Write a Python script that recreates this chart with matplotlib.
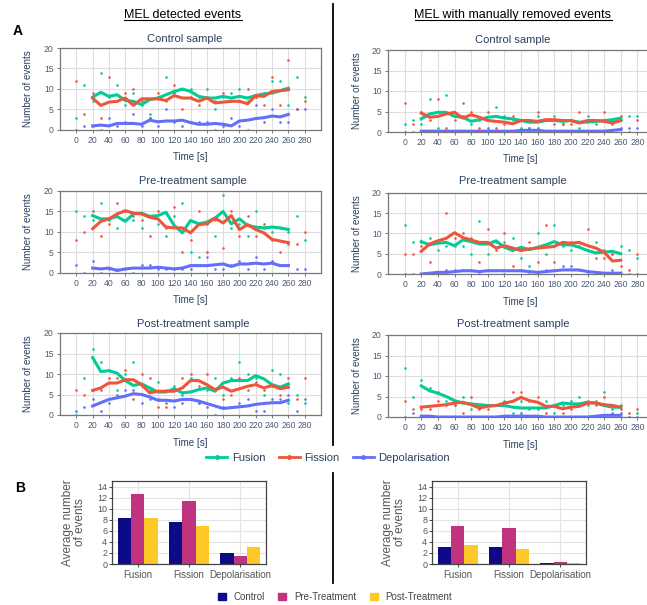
import matplotlib
matplotlib.use("Agg")
import matplotlib.pyplot as plt
import numpy as np
from matplotlib.lines import Line2D
from matplotlib.patches import Patch

plt.rcParams['font.family'] = ['Liberation Sans', 'DejaVu Sans']

# time axis: raw counts every 10 s, smoothed line from 20 to 260 s
time_pts = np.arange(0, 290, 10)
time_line = np.arange(20, 270, 10)

# ---- MEL detected events ----
det_ctrl_fus_pts = [3, 11, 7, 14, 8, 11, 6, 9, 6, 4, 8, 13, 9, 10, 10, 8, 10, 5, 8, 9, 10, 7, 8, 9, 12, 12, 6, 13, 8]
det_ctrl_fis_pts = [12, 4, 9, 3, 13, 7, 9, 10, 7, 3, 9, 7, 11, 5, 8, 6, 8, 7, 9, 7, 7, 10, 8, 6, 13, 6, 17, 5, 7]
det_ctrl_dep_pts = [0, 1, 1, 0, 3, 1, 2, 4, 1, 3, 1, 5, 2, 1, 2, 2, 2, 0, 1, 3, 1, 0, 6, 2, 5, 2, 2, 5, 5]
det_ctrl_fus_line = [8.0, 9.2, 8.2, 8.6, 7.2, 7.0, 6.2, 7.4, 7.8, 8.6, 9.4, 10.0, 9.4, 8.2, 7.8, 7.8, 8.2, 7.8, 8.2, 7.8, 8.4, 8.8, 9.0, 9.6, 10.2]
det_ctrl_fis_line = [7.8, 6.0, 6.8, 7.0, 7.8, 6.0, 7.6, 7.6, 7.6, 7.2, 8.4, 7.8, 7.8, 7.0, 7.8, 6.6, 6.8, 7.0, 7.0, 6.4, 8.4, 8.2, 9.4, 9.6, 9.8]
det_ctrl_dep_line = [1.0, 1.2, 1.0, 1.6, 1.6, 1.6, 1.4, 2.4, 2.0, 2.2, 2.2, 2.4, 1.8, 1.4, 1.4, 1.6, 1.4, 1.0, 2.2, 2.4, 2.8, 3.0, 3.4, 3.2, 3.8]

det_pre_fus_pts = [15, 14, 13, 17, 13, 11, 13, 13, 11, 14, 12, 9, 14, 17, 5, 4, 12, 9, 19, 11, 12, 9, 15, 11, 10, 11, 10, 14, 8]
det_pre_fis_pts = [8, 10, 15, 9, 12, 17, 15, 14, 13, 9, 15, 11, 16, 5, 8, 15, 5, 13, 6, 15, 9, 14, 9, 12, 8, 5, 7, 7, 10]
det_pre_dep_pts = [2, 0, 3, 0, 1, 1, 1, 0, 2, 2, 1, 1, 1, 1, 1, 2, 4, 1, 1, 2, 3, 1, 4, 1, 3, 2, 2, 1, 1]
det_pre_fus_line = [14.0, 13.2, 13.2, 13.8, 12.6, 14.4, 14.6, 13.8, 14.0, 14.8, 11.6, 9.8, 12.8, 12.0, 12.4, 13.4, 15.0, 12.0, 13.2, 11.6, 11.2, 11.0, 11.2, 11.0, 10.6]
det_pre_fis_line = [10.8, 12.6, 13.2, 14.4, 15.2, 14.6, 14.4, 13.6, 13.2, 11.2, 11.0, 11.0, 9.8, 11.8, 12.0, 13.4, 12.2, 14.0, 10.6, 11.8, 10.6, 9.8, 8.2, 7.8, 7.4]
det_pre_dep_line = [1.2, 1.0, 1.2, 0.6, 1.0, 1.2, 1.2, 1.2, 1.4, 1.2, 1.0, 1.2, 1.8, 1.8, 1.8, 2.0, 2.2, 1.6, 2.2, 2.2, 2.4, 2.2, 2.4, 1.8, 1.8]

det_post_fus_pts = [0, 9, 16, 13, 11, 6, 10, 13, 7, 6, 8, 6, 7, 5, 9, 3, 6, 9, 5, 9, 13, 10, 9, 5, 11, 10, 3, 5, 3]
det_post_fis_pts = [6, 5, 6, 6, 9, 9, 11, 4, 10, 9, 2, 2, 6, 9, 10, 7, 10, 6, 4, 5, 9, 6, 8, 6, 7, 5, 9, 4, 9]
det_post_dep_pts = [1, 2, 4, 1, 3, 5, 6, 6, 3, 4, 4, 3, 2, 3, 4, 3, 2, 0, 2, 2, 3, 4, 1, 1, 4, 4, 5, 1, 4]
det_post_fus_line = [14.0, 10.6, 10.8, 10.2, 8.4, 7.2, 7.6, 6.6, 5.6, 5.6, 6.4, 5.4, 5.6, 6.2, 6.6, 5.8, 7.8, 8.4, 8.4, 8.4, 9.6, 8.8, 7.4, 6.8, 7.6]
det_post_fis_line = [6.0, 6.6, 7.8, 7.8, 8.6, 8.6, 7.4, 5.4, 5.8, 5.8, 5.8, 6.6, 8.4, 8.4, 7.4, 6.2, 6.8, 5.8, 6.4, 7.0, 7.4, 6.6, 7.2, 6.4, 6.8]
det_post_dep_line = [2.2, 3.0, 3.8, 4.2, 4.6, 5.2, 5.0, 4.4, 3.6, 3.6, 3.4, 3.8, 3.8, 3.4, 2.8, 2.2, 1.6, 1.8, 2.0, 2.2, 2.6, 2.8, 3.0, 3.0, 3.6]

# ---- MEL with manually removed events ----
man_ctrl_fus_pts = [2, 3, 2, 8, 1, 9, 4, 4, 2, 3, 3, 6, 4, 3, 1, 1, 4, 3, 4, 2, 3, 1, 4, 2, 3, 3, 3, 4, 4]
man_ctrl_fis_pts = [7, 2, 5, 3, 8, 1, 3, 7, 5, 1, 5, 1, 2, 4, 3, 3, 5, 3, 2, 2, 2, 5, 3, 3, 5, 2, 4, 0, 3]
man_ctrl_dep_pts = [0, 0, 0, 0, 0, 0, 0, 0, 0, 0, 1, 0, 0, 0, 0, 1, 1, 0, 0, 0, 0, 0, 0, 0, 0, 0, 1, 1, 1]
man_ctrl_fus_line = [3.2, 4.4, 4.8, 4.8, 3.8, 3.6, 2.6, 3.0, 3.6, 3.8, 3.4, 3.2, 2.8, 2.4, 2.4, 2.8, 2.8, 2.6, 2.8, 2.4, 2.4, 2.6, 2.8, 3.0, 3.4]
man_ctrl_fis_line = [4.6, 3.6, 3.8, 4.4, 4.8, 3.4, 4.2, 3.6, 2.8, 2.6, 2.4, 2.0, 2.8, 2.8, 2.6, 3.0, 3.0, 2.8, 2.8, 2.2, 2.8, 2.8, 2.6, 2.2, 2.8]
man_ctrl_dep_line = [0.2, 0.2, 0.2, 0.2, 0.2, 0.2, 0.2, 0.2, 0.2, 0.2, 0.2, 0.2, 0.4, 0.4, 0.4, 0.2, 0.2, 0.2, 0.2, 0.2, 0.2, 0.2, 0.2, 0.4, 0.6]

man_pre_fus_pts = [12, 8, 8, 9, 6, 7, 7, 7, 5, 13, 5, 8, 8, 9, 4, 2, 10, 5, 12, 7, 6, 7, 6, 8, 6, 5, 7, 6, 4]
man_pre_fis_pts = [5, 5, 7, 3, 8, 15, 9, 10, 9, 3, 11, 6, 10, 2, 6, 8, 3, 12, 3, 8, 8, 8, 11, 4, 4, 5, 2, 1, 5]
man_pre_dep_pts = [0, 0, 0, 0, 0, 1, 1, 1, 1, 0, 1, 1, 0, 1, 1, 0, 0, 1, 1, 2, 2, 1, 0, 0, 0, 1, 0, 0, 0]
man_pre_fus_line = [8.0, 7.2, 7.6, 7.8, 7.0, 8.4, 8.0, 7.4, 7.4, 8.2, 6.6, 5.8, 6.6, 6.0, 6.6, 7.2, 8.0, 7.2, 7.2, 6.6, 5.8, 5.2, 5.4, 5.6, 5.0]
man_pre_fis_line = [5.6, 7.4, 8.2, 8.8, 10.2, 9.0, 8.4, 7.8, 7.8, 6.4, 7.0, 6.4, 5.8, 6.2, 6.4, 6.6, 6.8, 7.8, 7.6, 7.8, 7.0, 6.4, 5.4, 3.2, 3.4]
man_pre_dep_line = [0.0, 0.2, 0.4, 0.4, 0.6, 0.8, 0.8, 0.6, 0.8, 0.8, 0.8, 0.8, 0.8, 0.6, 0.4, 0.6, 0.8, 1.0, 1.0, 1.0, 0.6, 0.4, 0.2, 0.2, 0.2]

man_post_fus_pts = [12, 5, 9, 7, 6, 4, 3, 5, 2, 3, 3, 3, 4, 1, 4, 2, 2, 4, 1, 3, 4, 5, 3, 4, 6, 2, 3, 0, 1]
man_post_fis_pts = [4, 2, 2, 2, 4, 3, 3, 1, 5, 2, 2, 3, 3, 6, 6, 4, 5, 1, 3, 1, 2, 3, 4, 3, 5, 3, 2, 1, 2]
man_post_dep_pts = [0, 1, 0, 0, 0, 0, 0, 0, 0, 0, 0, 0, 0, 0, 1, 0, 0, 0, 0, 0, 0, 0, 0, 0, 0, 1, 1, 0, 0]
man_post_fus_line = [7.6, 6.4, 5.8, 5.0, 4.0, 3.4, 3.2, 3.0, 2.8, 2.8, 2.8, 2.4, 2.2, 2.2, 2.2, 2.2, 2.8, 3.4, 3.2, 3.2, 3.6, 3.4, 2.8, 2.4, 2.4]
man_post_fis_line = [2.4, 2.6, 2.8, 3.0, 3.4, 3.6, 3.0, 2.2, 2.6, 2.8, 3.4, 3.8, 4.8, 4.0, 3.6, 2.6, 2.6, 2.0, 2.4, 2.6, 3.4, 3.4, 3.0, 2.8, 2.4]
man_post_dep_line = [0.2, 0.2, 0.0, 0.0, 0.0, 0.0, 0.0, 0.0, 0.0, 0.0, 0.2, 0.2, 0.2, 0.2, 0.2, 0.0, 0.0, 0.0, 0.0, 0.0, 0.0, 0.2, 0.4, 0.4, 0.4]

# ---- B: average number of events ----
bar_cats = ['Fusion', 'Fission', 'Depolarisation']
bar_groups = ['Control', 'Pre-Treatment', 'Post-Treatment']
det_avg_control = [8.3, 7.6, 2.0]
det_avg_pre = [12.6, 11.3, 1.5]
det_avg_post = [8.3, 6.8, 3.1]
man_avg_control = [3.1, 3.0, 0.1]
man_avg_pre = [6.9, 6.5, 0.4]
man_avg_post = [3.5, 2.8, 0.1]

GREEN, RED, BLUE = '#00CC96', '#EF553B', '#636EFA'
BAR_COLS = ['#0d0a87', '#c0347f', '#fdc828']
TITLE_C = '#2a3f5f'
TICK_C = '#4b5a76'

W, H = 647, 605
fig = plt.figure(figsize=(W / 100, H / 100), dpi=100)


def fx(px):
    return px / W


def fy(py):
    return 1 - py / H


def line_panel(rect, pts, lines):
    ax = fig.add_axes(rect)
    for (p, l, c) in zip(pts, lines, [GREEN, RED, BLUE]):
        ax.scatter(time_pts, p, s=3.5, color=c, linewidths=0, zorder=2)
        ax.plot(time_line, l, color=c, lw=2.2, zorder=3, solid_joinstyle='round')
    ax.set_xlim(-20, 300)
    ax.set_ylim(0, 20)
    ax.set_xticks(np.arange(0, 300, 20))
    ax.set_yticks([0, 5, 10, 15, 20])
    ax.grid(color='#dedede', lw=0.8, zorder=0)
    ax.set_axisbelow(True)
    for s in ax.spines.values():
        s.set_color('#777777')
        s.set_linewidth(0.9)
    ax.tick_params(labelsize=6.2, colors='#777777', labelcolor=TICK_C, length=2.5, width=0.7, pad=2)
    return ax


left_x, left_w = fx(60), fx(261)
right_x, right_w = fx(388), fx(266)
rows_left = [(48, 130), (191, 273), (333, 415)]
rows_right = [(50, 132), (193, 274), (335, 417)]

det_data = [
    ([det_ctrl_fus_pts, det_ctrl_fis_pts, det_ctrl_dep_pts], [det_ctrl_fus_line, det_ctrl_fis_line, det_ctrl_dep_line]),
    ([det_pre_fus_pts, det_pre_fis_pts, det_pre_dep_pts], [det_pre_fus_line, det_pre_fis_line, det_pre_dep_line]),
    ([det_post_fus_pts, det_post_fis_pts, det_post_dep_pts], [det_post_fus_line, det_post_fis_line, det_post_dep_line]),
]
man_data = [
    ([man_ctrl_fus_pts, man_ctrl_fis_pts, man_ctrl_dep_pts], [man_ctrl_fus_line, man_ctrl_fis_line, man_ctrl_dep_line]),
    ([man_pre_fus_pts, man_pre_fis_pts, man_pre_dep_pts], [man_pre_fus_line, man_pre_fis_line, man_pre_dep_line]),
    ([man_post_fus_pts, man_post_fis_pts, man_post_dep_pts], [man_post_fus_line, man_post_fis_line, man_post_dep_line]),
]
titles = ['Control sample', 'Pre-treatment sample', 'Post-treatment sample']
title_y_left = [39, 181, 324]
title_x_left = [185, 193, 193]
title_y_right = [40, 181, 324]
xlab_y_left = [157, 300, 443]
xlab_y_right = [159, 302, 445]

for i in range(3):
    t, b = rows_left[i]
    line_panel([left_x, fy(b), left_w, (b - t) / H], *det_data[i])
    fig.text(fx(title_x_left[i]), fy(title_y_left[i]), titles[i], ha='center', va='center', fontsize=8, color=TITLE_C)
    fig.text(fx(190), fy(xlab_y_left[i]), 'Time [s]', ha='center', va='center', fontsize=7, color=TITLE_C)
    fig.text(fx(28), fy((t + b) / 2), 'Number of events', rotation=90, ha='center', va='center', fontsize=7, color=TITLE_C)

    t, b = rows_right[i]
    line_panel([right_x, fy(b), right_w, (b - t) / H], *man_data[i])
    fig.text(fx(513), fy(title_y_right[i]), titles[i], ha='center', va='center', fontsize=8, color=TITLE_C)
    fig.text(fx(520), fy(xlab_y_right[i]), 'Time [s]', ha='center', va='center', fontsize=7, color=TITLE_C)
    fig.text(fx(357), fy((t + b) / 2), 'Number of events', rotation=90, ha='center', va='center', fontsize=7, color=TITLE_C)

# line legend
handles = [Line2D([], [], color=c, lw=2, marker='o', ms=2.5) for c in [GREEN, RED, BLUE]]
fig.legend(handles, ['Fusion', 'Fission', 'Depolarisation'], loc='center', bbox_to_anchor=(fx(328), fy(458)),
           ncol=3, frameon=False, fontsize=8, handlelength=1.9, columnspacing=1.2, handletextpad=0.4,
           labelcolor=TITLE_C)


def bar_panel(rect, ctrl, pre, post):
    ax = fig.add_axes(rect)
    x = np.arange(len(bar_cats))
    w = 0.26
    for k, (vals, c) in enumerate(zip([ctrl, pre, post], BAR_COLS)):
        ax.bar(x + (k - 1) * w, vals, width=w, color=c, zorder=2)
    ax.set_xlim(-0.5, 2.5)
    ax.set_ylim(0, 15)
    ax.set_yticks(np.arange(0, 15, 2))
    ax.set_xticks(x)
    ax.set_xticklabels(bar_cats)
    ax.grid(color='#e3e3e3', lw=0.8, zorder=0)
    ax.set_axisbelow(True)
    for s in ax.spines.values():
        s.set_color('#444444')
        s.set_linewidth(0.9)
    ax.tick_params(axis='y', labelsize=6.5, colors='#444444', labelcolor='#555555', length=2, width=0.7, pad=1.5)
    ax.tick_params(axis='x', labelsize=7, colors='#444444', labelcolor='#555555', length=2, width=0.7, pad=2)
    ax.set_ylabel('Average number\nof events', fontsize=8.5, color='#555555', labelpad=8, linespacing=1.0)
    return ax


bar_panel([fx(112), fy(564), fx(154), 83 / H], det_avg_control, det_avg_pre, det_avg_post)
bar_panel([fx(432), fy(564), fx(154), 83 / H], man_avg_control, man_avg_pre, man_avg_post)

bar_handles = [Patch(color=c) for c in BAR_COLS]
fig.legend(bar_handles, bar_groups, loc='center', bbox_to_anchor=(fx(335), fy(597)), ncol=3, frameon=False,
           fontsize=7, handlelength=0.8, handleheight=0.8, columnspacing=1.4, handletextpad=0.8,
           labelcolor='#444444')

# panel letters, headers, divider
fig.text(fx(13), fy(31), 'A', fontsize=10, fontweight='bold', ha='left', va='center')
fig.text(fx(15), fy(488), 'B', fontsize=10, fontweight='bold', ha='left', va='center')
hdr1 = fig.text(fx(183), fy(15), 'MEL detected events', fontsize=9, ha='center', va='center')
hdr2 = fig.text(fx(513), fy(15), 'MEL with manually removed events', fontsize=9, ha='center', va='center')
fig.add_artist(Line2D([fx(333), fx(333)], [fy(4), fy(445)], color='black', lw=1.3))
fig.add_artist(Line2D([fx(333), fx(333)], [fy(473), fy(583)], color='black', lw=1.3))

fig.canvas.draw()
inv = fig.transFigure.inverted()
for h in (hdr1, hdr2):
    bb = h.get_window_extent().transformed(inv)
    fig.add_artist(Line2D([bb.x0, bb.x1], [bb.y0 + 0.001, bb.y0 + 0.001], color='black', lw=0.8))

fig.savefig('out.png', dpi=100)
